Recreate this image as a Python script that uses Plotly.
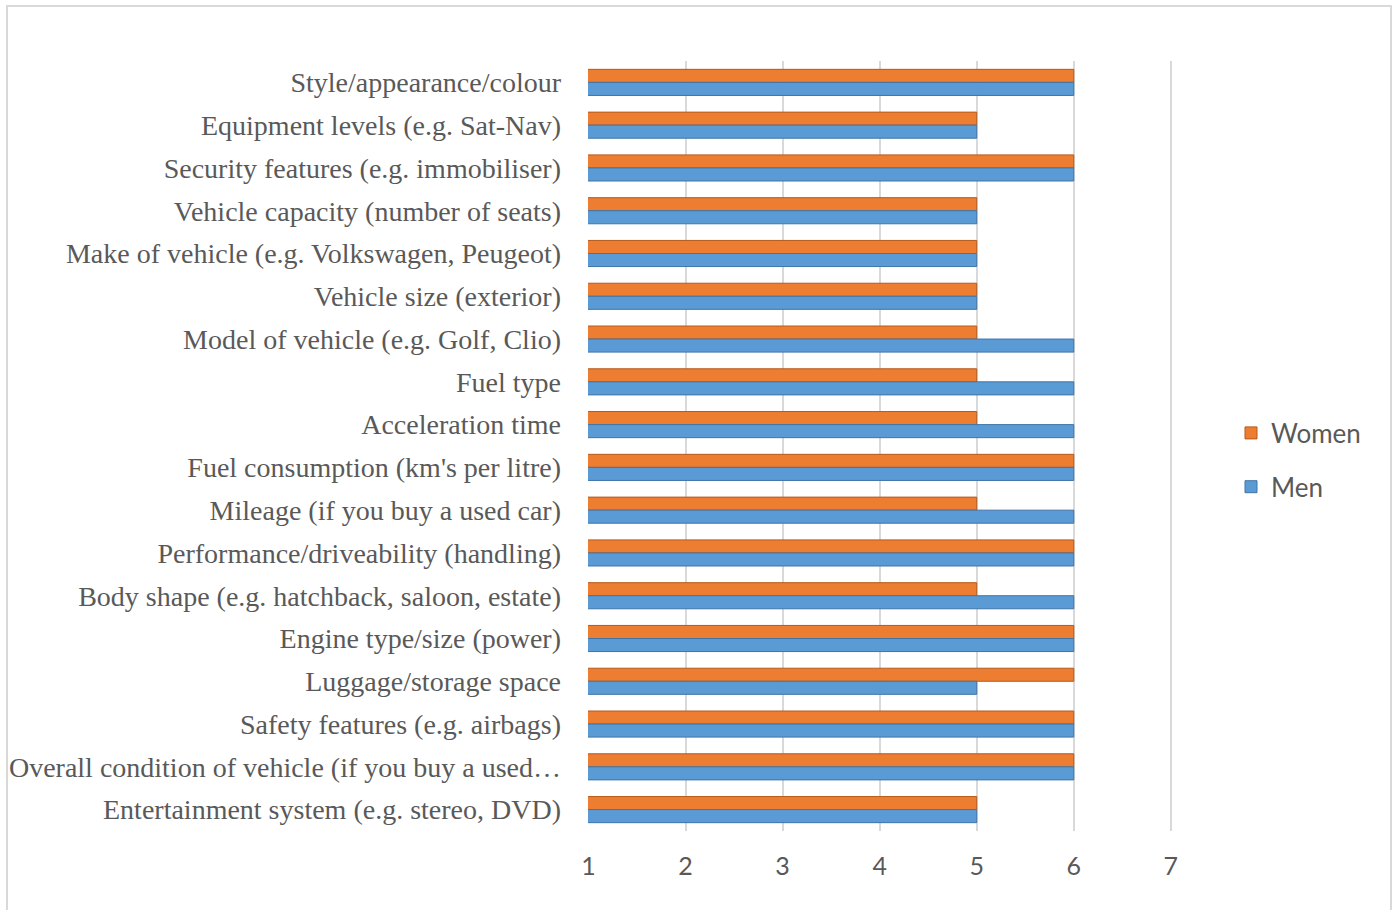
import plotly.graph_objects as go

# Importance ratings of car purchase factors, scale 1-7
factors = [
    "Style/appearance/colour",
    "Equipment levels (e.g. Sat-Nav)",
    "Security features (e.g. immobiliser)",
    "Vehicle capacity (number of seats)",
    "Make of vehicle (e.g. Volkswagen, Peugeot)",
    "Vehicle size (exterior)",
    "Model of vehicle (e.g. Golf, Clio)",
    "Fuel type",
    "Acceleration time",
    "Fuel consumption (km's per litre)",
    "Mileage (if you buy a used car)",
    "Performance/driveability (handling)",
    "Body shape (e.g. hatchback, saloon, estate)",
    "Engine type/size (power)",
    "Luggage/storage space",
    "Safety features (e.g. airbags)",
    "Overall condition of vehicle (if you buy a used…",
    "Entertainment system (e.g. stereo, DVD)",
]
women = [6, 5, 6, 5, 5, 5, 5, 5, 5, 6, 5, 6, 5, 6, 6, 6, 6, 5]
men = [6, 5, 6, 5, 5, 5, 6, 6, 6, 6, 6, 6, 6, 6, 5, 6, 6, 5]
x_ticks = [1, 2, 3, 4, 5, 6, 7]

W, H = 1397, 910
L, R, T, B = 588, 225, 61, 79
pw, ph = W - L - R, H - T - B

fig = go.Figure()
fig.add_trace(go.Bar(
    y=factors, x=women, name="Women", orientation="h",
    marker=dict(color="#ED7D31", line=dict(color="#B55A1C", width=1)),
    legendgroup="w",
))
fig.add_trace(go.Bar(
    y=factors, x=men, name="Men", orientation="h",
    marker=dict(color="#5B9BD5", line=dict(color="#3F74A6", width=1)),
    legendgroup="m",
))

# outer chart frame
fig.add_shape(
    type="rect", xref="paper", yref="paper",
    x0=(7 - L) / pw, x1=(1391 - L) / pw,
    y0=(H - B - 918) / ph, y1=(H - B - 6) / ph,
    line=dict(color="#D9D9D9", width=2), fillcolor="rgba(0,0,0,0)",
    layer="below",
)

fig.update_layout(
    width=W, height=H,
    margin=dict(l=L, r=R, t=T, b=B, autoexpand=False),
    paper_bgcolor="white", plot_bgcolor="white",
    barmode="group", bargap=0.39, bargroupgap=0,
    xaxis=dict(
        range=[0.995, 7.012], tickvals=x_ticks, showgrid=True,
        gridcolor="#D9D9D9", gridwidth=1.5, zeroline=False,
        showline=False, ticks="", ticklabelstandoff=18, automargin=False,
        tickfont=dict(family="Lato, Liberation Sans, sans-serif", size=25, color="#595959"),
    ),
    yaxis=dict(
        categoryorder="array", categoryarray=factors, autorange="reversed",
        showgrid=False, zeroline=False, showline=False, ticks="",
        ticklabelstandoff=26, automargin=False,
        tickfont=dict(family="Liberation Serif, Times New Roman, serif", size=28, color="#595959"),
    ),
    legend=dict(
        x=(1231 - L) / pw, xanchor="left", y=(H - B - 460) / ph, yanchor="middle",
        traceorder="grouped", tracegroupgap=17,
        font=dict(family="Lato, Liberation Sans, sans-serif", size=26, color="#595959"),
        itemwidth=30,
    ),
    showlegend=True,
)

fig.write_html("out.html")
